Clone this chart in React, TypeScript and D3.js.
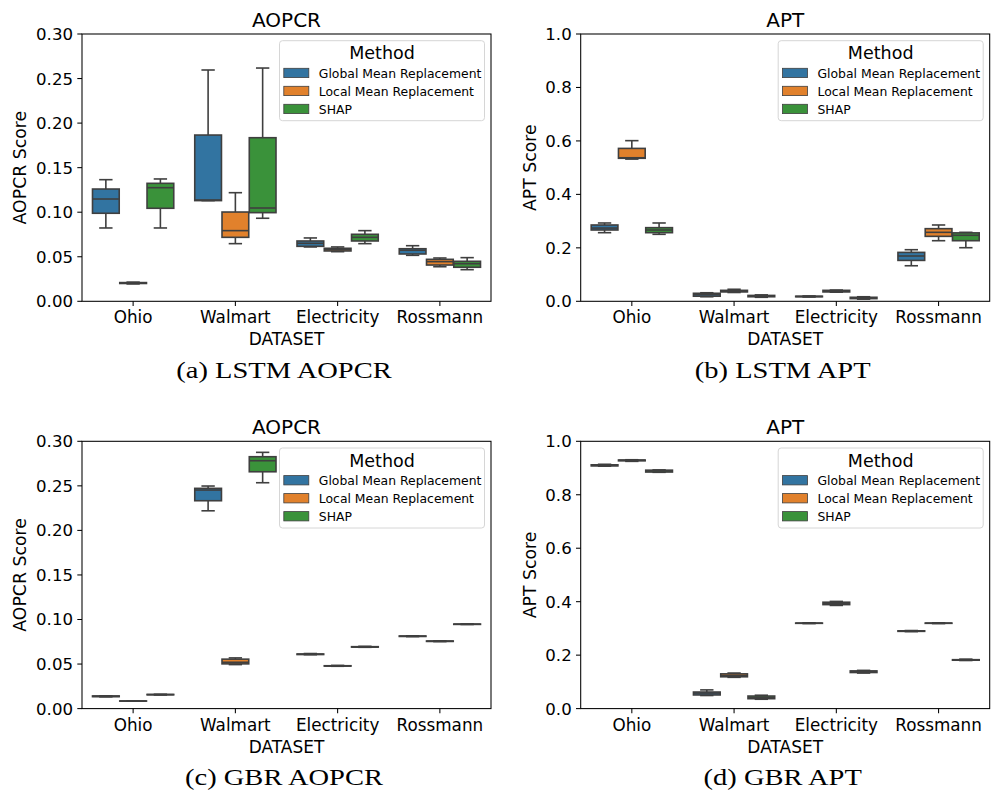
import React from "react";
import * as d3 from "d3";

const datasets = ["Ohio", "Walmart", "Electricity", "Rossmann"];
const methods = ["Global Mean Replacement", "Local Mean Replacement", "SHAP"];
const colors = ["#3274a1", "#e1812c", "#3a923a"];

// each row: [whisker low, Q1, median, Q3, whisker high] per dataset
const lstmAopcrGlobal = [[0.0823, 0.0988, 0.1148, 0.126, 0.1365], [0.113, 0.113, 0.1137, 0.1866, 0.2596], [0.061, 0.0617, 0.0651, 0.0677, 0.0711], [0.0516, 0.0531, 0.0573, 0.059, 0.0624]];
const lstmAopcrLocal = [[0.0195, 0.02, 0.0205, 0.021, 0.0215], [0.0647, 0.0718, 0.0793, 0.1002, 0.1219], [0.0557, 0.0565, 0.058, 0.0595, 0.061], [0.0388, 0.0407, 0.0445, 0.0471, 0.0486]];
const lstmAopcrShap = [[0.0823, 0.1044, 0.1275, 0.1324, 0.1373], [0.0932, 0.0995, 0.1047, 0.1836, 0.2618], [0.0647, 0.0677, 0.0718, 0.0752, 0.0793], [0.0355, 0.0382, 0.0422, 0.0449, 0.049]];

const lstmAptGlobal = [[0.2567, 0.2667, 0.274, 0.2855, 0.293], [0.017, 0.019, 0.025, 0.03, 0.032], [0.016, 0.017, 0.018, 0.019, 0.02], [0.133, 0.153, 0.1695, 0.183, 0.193]];
const lstmAptLocal = [[0.532, 0.535, 0.537, 0.572, 0.601], [0.033, 0.035, 0.038, 0.041, 0.045], [0.034, 0.035, 0.038, 0.041, 0.042], [0.2267, 0.243, 0.258, 0.2717, 0.2855]];
const lstmAptShap = [[0.2506, 0.2567, 0.2667, 0.2755, 0.293], [0.015, 0.017, 0.02, 0.022, 0.024], [0.008, 0.01, 0.012, 0.015, 0.017], [0.2005, 0.2267, 0.247, 0.256, 0.258]];

const gbrAopcrGlobal = [[0.0132, 0.0134, 0.0138, 0.0142, 0.0144], [0.222, 0.2333, 0.2453, 0.2472, 0.2498], [0.0605, 0.0607, 0.061, 0.0613, 0.0618], [0.0808, 0.081, 0.0812, 0.0815, 0.0817]];
const gbrAopcrLocal = [[0.0083, 0.0084, 0.0085, 0.0086, 0.0087], [0.0494, 0.0502, 0.052, 0.0555, 0.0569], [0.0475, 0.0477, 0.0479, 0.0481, 0.0485], [0.0752, 0.0754, 0.0756, 0.0759, 0.0761]];
const gbrAopcrShap = [[0.0153, 0.0155, 0.0157, 0.0159, 0.0161], [0.2535, 0.2658, 0.2782, 0.2827, 0.2876], [0.0688, 0.069, 0.0692, 0.0695, 0.0699], [0.0944, 0.0945, 0.0947, 0.0949, 0.095]];

const gbrAptGlobal = [[0.907, 0.908, 0.91, 0.912, 0.914], [0.049, 0.051, 0.058, 0.062, 0.07], [0.318, 0.319, 0.3195, 0.32, 0.321], [0.288, 0.289, 0.2906, 0.291, 0.292]];
const gbrAptLocal = [[0.925, 0.927, 0.929, 0.93, 0.931], [0.117, 0.119, 0.1236, 0.13, 0.133], [0.386, 0.389, 0.394, 0.398, 0.401], [0.318, 0.319, 0.3195, 0.32, 0.321]];
const gbrAptShap = [[0.884, 0.885, 0.889, 0.892, 0.893], [0.035, 0.037, 0.041, 0.047, 0.05], [0.133, 0.135, 0.1386, 0.141, 0.143], [0.18, 0.181, 0.182, 0.183, 0.185]];

const aopcrTicks = [0, 0.05, 0.1, 0.15, 0.2, 0.25, 0.3];
const aptTicks = [0, 0.2, 0.4, 0.6, 0.8, 1.0];

const FONT = "DejaVu Sans, sans-serif";
const LINE = "#3f3f3f";

const panels = [
  { x: 82, y: 34, title: "AOPCR", ylabel: "AOPCR Score", caption: "(a) LSTM AOPCR", max: 0.3, ticks: aopcrTicks, fmt: ".2f", data: [lstmAopcrGlobal, lstmAopcrLocal, lstmAopcrShap] },
  { x: 580.7, y: 34, title: "APT", ylabel: "APT Score", caption: "(b) LSTM APT", max: 1.0, ticks: aptTicks, fmt: ".1f", data: [lstmAptGlobal, lstmAptLocal, lstmAptShap] },
  { x: 82, y: 441.3, title: "AOPCR", ylabel: "AOPCR Score", caption: "(c) GBR AOPCR", max: 0.3, ticks: aopcrTicks, fmt: ".2f", data: [gbrAopcrGlobal, gbrAopcrLocal, gbrAopcrShap] },
  { x: 580.7, y: 441.3, title: "APT", ylabel: "APT Score", caption: "(d) GBR APT", max: 1.0, ticks: aptTicks, fmt: ".1f", data: [gbrAptGlobal, gbrAptLocal, gbrAptShap] },
];

const W = 409;
const H = 267.3;

function Panel({ p }) {
  const x = d3.scaleBand().domain(datasets).range([0, W]).padding(0);
  const bw = x.bandwidth();
  const hue = d3.scaleBand().domain(methods).range([-0.4 * bw, 0.4 * bw]);
  const boxW = hue.bandwidth() * 0.98;
  const y = d3.scaleLinear().domain([0, p.max]).range([H, 0]);
  const fmt = d3.format(p.fmt);
  const lx = W - 211.5;
  return (
    <g transform={`translate(${p.x},${p.y})`}>
      <text x={W / 2} y={-7.3} textAnchor="middle" fontSize={20} fontFamily={FONT}>{p.title}</text>
      {p.data.map((series, m) =>
        series.map((d, i) => {
          const cx = x(datasets[i]) + bw / 2 + hue(methods[m]) + hue.bandwidth() / 2;
          const [lo, q1, med, q3, hi] = d;
          return (
            <g key={`${m}-${i}`} stroke={LINE} strokeWidth={1.6} fill="none">
              <line x1={cx} x2={cx} y1={y(q3)} y2={y(hi)} />
              <line x1={cx} x2={cx} y1={y(q1)} y2={y(lo)} />
              <line x1={cx - boxW / 4} x2={cx + boxW / 4} y1={y(hi)} y2={y(hi)} />
              <line x1={cx - boxW / 4} x2={cx + boxW / 4} y1={y(lo)} y2={y(lo)} />
              <rect x={cx - boxW / 2} y={y(q3)} width={boxW} height={Math.max(0.01, y(q1) - y(q3))} fill={colors[m]} />
              <line x1={cx - boxW / 2} x2={cx + boxW / 2} y1={y(med)} y2={y(med)} />
            </g>
          );
        })
      )}
      <rect x={0} y={0} width={W} height={H} fill="none" stroke="#000" strokeWidth={1.05} />
      {p.ticks.map((t) => (
        <g key={t} transform={`translate(0,${y(t)})`}>
          <line x1={-4.7} x2={0} stroke="#000" strokeWidth={1.05} />
          <text x={-9} dy="0.36em" textAnchor="end" fontSize={16.6} fontFamily={FONT}>{fmt(t)}</text>
        </g>
      ))}
      {datasets.map((d) => (
        <g key={d} transform={`translate(${x(d) + bw / 2},${H})`}>
          <line y1={0} y2={4.7} stroke="#000" strokeWidth={1.05} />
          <text y={22} textAnchor="middle" fontSize={16.8} fontFamily={FONT}>{d}</text>
        </g>
      ))}
      <text x={W / 2} y={H + 44} textAnchor="middle" fontSize={17} fontFamily={FONT}>DATASET</text>
      <text transform={`translate(${p.max < 1 ? -56 : -45},${H / 2}) rotate(-90)`} textAnchor="middle" fontSize={17.3} fontFamily={FONT}>{p.ylabel}</text>
      <g transform={`translate(${lx},6.7)`}>
        <rect x={0} y={0} width={205} height={80} rx={3} fill="#fff" fillOpacity={0.8} stroke="#d6d6d6" strokeWidth={1} />
        <text x={102.5} y={18.5} textAnchor="middle" fontSize={17.5} fontFamily={FONT}>Method</text>
        {methods.map((m, k) => (
          <g key={m} transform={`translate(0,${k * 18})`}>
            <rect x={4.3} y={27.6} width={25} height={9.3} fill={colors[k]} stroke={LINE} strokeWidth={0.8} />
            <text x={39.3} y={37} fontSize={12.4} fontFamily={FONT}>{m}</text>
          </g>
        ))}
      </g>
    </g>
  );
}

export default function App() {
  return (
    <svg width={993} height={792} style={{ position: "absolute", left: 0, top: 0, background: "#fff" }}>
      <rect width={993} height={792} fill="#fff" />
      {panels.map((p) => {
        const cx = p.x + W / 2 - 2.5;
        return (
          <g key={p.caption}>
            <Panel p={p} />
            <text transform={`translate(${cx},${p.y + 344}) scale(1.24,1)`} textAnchor="middle" fontSize={23} fontFamily="Liberation Serif, serif">{p.caption}</text>
          </g>
        );
      })}
    </svg>
  );
}
